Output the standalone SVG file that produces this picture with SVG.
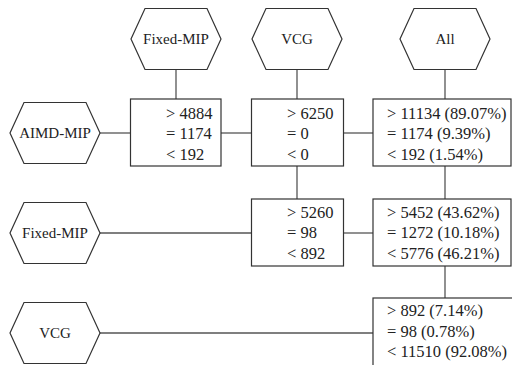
<svg xmlns="http://www.w3.org/2000/svg" width="512" height="365" viewBox="0 0 512 365">
<rect width="512" height="365" fill="#fff"/>
<g id="connectors" stroke="#555" stroke-width="1.3">
<line x1="176" y1="69.5" x2="176" y2="99"/>
<line x1="297" y1="69.5" x2="297" y2="99"/>
<line x1="445" y1="69.5" x2="445" y2="99"/>
<line x1="100" y1="133" x2="130.5" y2="133"/>
<line x1="221" y1="133" x2="251.5" y2="133"/>
<line x1="343.5" y1="133" x2="373" y2="133"/>
<line x1="297" y1="166" x2="297" y2="199"/>
<line x1="445" y1="166" x2="445" y2="199"/>
<line x1="100" y1="233" x2="251.5" y2="233"/>
<line x1="343.5" y1="233" x2="373" y2="233"/>
<line x1="445" y1="266" x2="445" y2="298"/>
<line x1="100" y1="333" x2="373" y2="333"/>
</g>
<g id="hex-fixedmip-top">
<polygon fill="#fff" stroke="#333" stroke-width="1.2" points="131,39 145,8.5 207,8.5 221,39 207,69.5 145,69.5"/>
<text font-family="Liberation Serif" font-size="15" fill="#222" text-anchor="middle" x="176" y="44">Fixed-MIP</text>
</g>
<g id="hex-vcg-top">
<polygon fill="#fff" stroke="#333" stroke-width="1.2" points="252,39 266,8.5 328,8.5 342,39 328,69.5 266,69.5"/>
<text font-family="Liberation Serif" font-size="15" fill="#222" text-anchor="middle" x="297" y="44">VCG</text>
</g>
<g id="hex-all-top">
<polygon fill="#fff" stroke="#333" stroke-width="1.2" points="400,39 414,8.5 476,8.5 490,39 476,69.5 414,69.5"/>
<text font-family="Liberation Serif" font-size="15" fill="#222" text-anchor="middle" x="445" y="44">All</text>
</g>
<g id="hex-aimdmip-left">
<polygon fill="#fff" stroke="#333" stroke-width="1.2" points="10,133 24,102.5 86,102.5 100,133 86,163.5 24,163.5"/>
<text font-family="Liberation Serif" font-size="15" fill="#222" text-anchor="middle" x="55" y="138">AIMD-MIP</text>
</g>
<g id="hex-fixedmip-left">
<polygon fill="#fff" stroke="#333" stroke-width="1.2" points="10,233 24,202.5 86,202.5 100,233 86,263.5 24,263.5"/>
<text font-family="Liberation Serif" font-size="15" fill="#222" text-anchor="middle" x="55" y="238">Fixed-MIP</text>
</g>
<g id="hex-vcg-left">
<polygon fill="#fff" stroke="#333" stroke-width="1.2" points="10,333 24,302.5 86,302.5 100,333 86,363.5 24,363.5"/>
<text font-family="Liberation Serif" font-size="15" fill="#222" text-anchor="middle" x="55" y="338">VCG</text>
</g>
<g id="box-aimd-fixed">
<rect fill="#fff" stroke="#333" stroke-width="1.2" x="130.5" y="99" width="90.5" height="67"/>
<text font-family="Liberation Serif" font-size="16.5" fill="#222" x="166" y="118.5">&gt; 4884</text>
<text font-family="Liberation Serif" font-size="16.5" fill="#222" x="166" y="139">= 1174</text>
<text font-family="Liberation Serif" font-size="16.5" fill="#222" x="166" y="159.5">&lt; 192</text>
</g>
<g id="box-aimd-vcg">
<rect fill="#fff" stroke="#333" stroke-width="1.2" x="251.5" y="99" width="92" height="67"/>
<text font-family="Liberation Serif" font-size="16.5" fill="#222" x="287" y="118.5">&gt; 6250</text>
<text font-family="Liberation Serif" font-size="16.5" fill="#222" x="287" y="139">= 0</text>
<text font-family="Liberation Serif" font-size="16.5" fill="#222" x="287" y="159.5">&lt; 0</text>
</g>
<g id="box-aimd-all">
<rect fill="#fff" stroke="#333" stroke-width="1.2" x="373" y="99" width="138" height="67"/>
<text font-family="Liberation Serif" font-size="16.5" fill="#222" x="387" y="118.5">&gt; 11134 (89.07%)</text>
<text font-family="Liberation Serif" font-size="16.5" fill="#222" x="387" y="139">= 1174 (9.39%)</text>
<text font-family="Liberation Serif" font-size="16.5" fill="#222" x="387" y="159.5">&lt; 192 (1.54%)</text>
</g>
<g id="box-fixed-vcg">
<rect fill="#fff" stroke="#333" stroke-width="1.2" x="251.5" y="199" width="92" height="67"/>
<text font-family="Liberation Serif" font-size="16.5" fill="#222" x="287" y="217.5">&gt; 5260</text>
<text font-family="Liberation Serif" font-size="16.5" fill="#222" x="287" y="238">= 98</text>
<text font-family="Liberation Serif" font-size="16.5" fill="#222" x="287" y="258.5">&lt; 892</text>
</g>
<g id="box-fixed-all">
<rect fill="#fff" stroke="#333" stroke-width="1.2" x="373" y="199" width="138" height="67"/>
<text font-family="Liberation Serif" font-size="16.5" fill="#222" x="387" y="217.5">&gt; 5452 (43.62%)</text>
<text font-family="Liberation Serif" font-size="16.5" fill="#222" x="387" y="238">= 1272 (10.18%)</text>
<text font-family="Liberation Serif" font-size="16.5" fill="#222" x="387" y="258.5">&lt; 5776 (46.21%)</text>
</g>
<g id="box-vcg-all">
<rect fill="#fff" stroke="#333" stroke-width="1.2" x="373" y="298" width="150" height="80"/>
<text font-family="Liberation Serif" font-size="16.5" fill="#222" x="387" y="316">&gt; 892 (7.14%)</text>
<text font-family="Liberation Serif" font-size="16.5" fill="#222" x="387" y="336.5">= 98 (0.78%)</text>
<text font-family="Liberation Serif" font-size="16.5" fill="#222" x="387" y="357">&lt; 11510 (92.08%)</text>
</g>
</svg>
